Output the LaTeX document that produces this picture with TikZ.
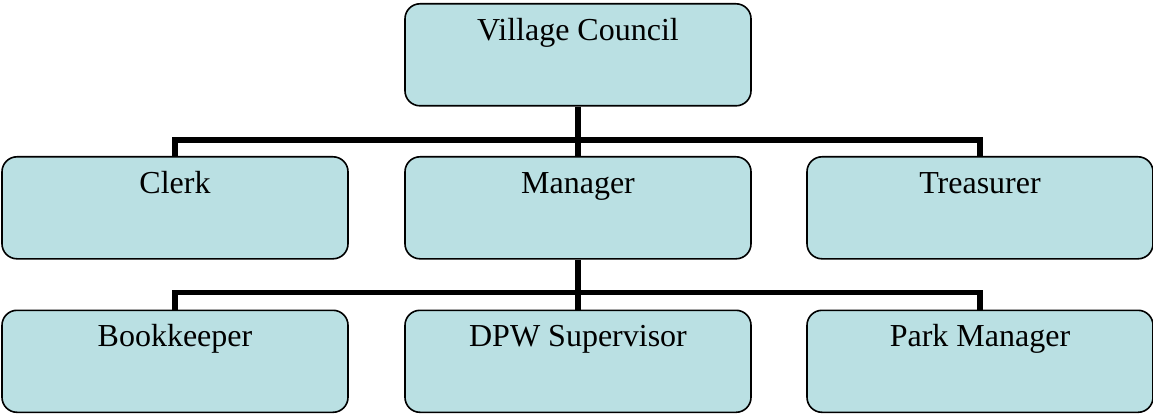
\documentclass[tikz,border=0pt]{standalone}
\usepackage{fontspec}
\setmainfont{Liberation Serif}
\definecolor{boxfill}{RGB}{186,224,227}
\begin{document}
\begin{tikzpicture}[x=1pt,y=-1pt,
  orgbox/.style={draw=black,line width=1.6pt,fill=boxfill,rounded corners=15pt,
    anchor=north,minimum width=346pt,inner sep=0pt,
    text height=36.5pt,text depth=65.5pt,
    font=\fontsize{32}{38}\selectfont},
  conn/.style={draw=black,line width=5.5pt,line join=miter}]
\useasboundingbox (0,0) rectangle (1153,414);
\node[orgbox] (vc) at (578,3) {Village Council};
\node[orgbox] (clerk) at (175,156) {Clerk};
\node[orgbox] (mgr) at (578,156) {Manager};
\node[orgbox] (treas) at (980,156) {Treasurer};
\node[orgbox] (book) at (175,309.5) {Bookkeeper};
\node[orgbox] (dpw) at (578,309.5) {DPW Supervisor};
\node[orgbox] (park) at (980,309.5) {Park Manager};
\coordinate (j1) at (578,140);
\coordinate (j2) at (578,292.5);
\draw[conn] (vc.south) -- (j1);
\draw[conn] (clerk.north) |- (j1) -| (treas.north);
\draw[conn] (j1) -- (mgr.north);
\draw[conn] (mgr.south) -- (j2);
\draw[conn] (book.north) |- (j2) -| (park.north);
\draw[conn] (j2) -- (dpw.north);
\end{tikzpicture}
\end{document}
